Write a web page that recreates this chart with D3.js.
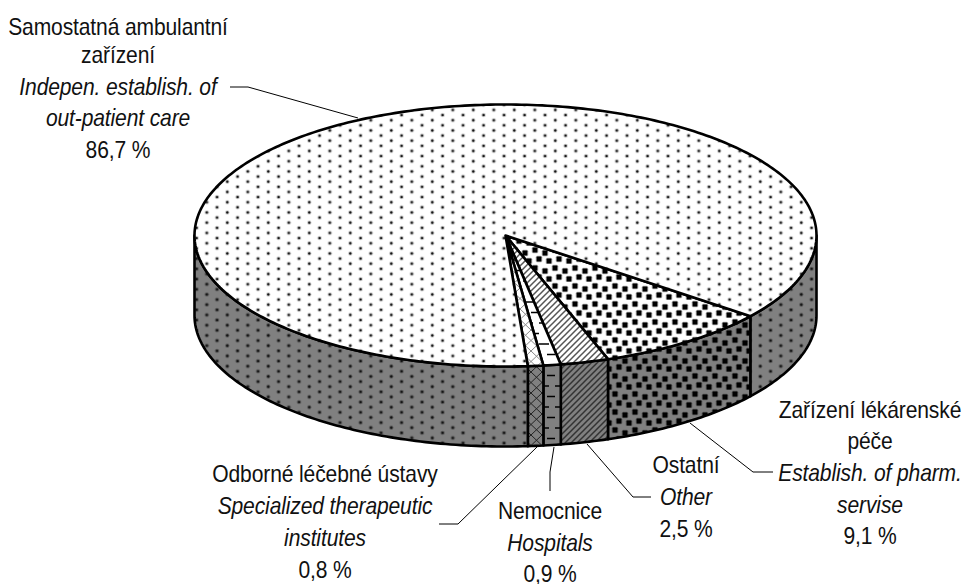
<!DOCTYPE html>
<html><head><meta charset="utf-8">
<script src="https://cdn.jsdelivr.net/npm/d3@7"></script>
<style>html,body{margin:0;background:#fff}svg{display:block}text{font-family:"Liberation Sans",Arial,sans-serif;font-size:23px;letter-spacing:-0.13px;fill:#111;text-anchor:middle}</style>
</head><body><svg id="c" width="967" height="584"></svg>
<script>
const categories=["Zařízení lékárenské péče","Ostatní","Nemocnice","Odborné léčebné ústavy","Samostatná ambulantní zařízení"];
const values=[9.1,2.5,0.9,0.8,86.7];
const patternIds=["pharm","other","hosp","spec","main"];
const labelLines=[
 [["Zařízení lékárenské",0],["péče",0],["Establish. of pharm.",1],["servise",1],["9,1 %",0]],
 [["Ostatní",0],["Other",1],["2,5 %",0]],
 [["Nemocnice",0],["Hospitals",1],["0,9 %",0]],
 [["Odborné léčebné ústavy",0],["Specialized therapeutic",1],["institutes",1],["0,8 %",0]],
 [["Samostatná ambulantní",0],["zařízení",0],["Indepen. establish. of",1],["out-patient care",1],["86,7 %",0]]
];
const labelX=[870,686,550,325,118];
const labelY=[[418,449,481,513,544],[473,505,537],[519,551,582],[482,514,546,578],[35,63,95,126,158]];
const leaders=[
 [[690,423],[753,472],[773,472]],
 [[587,444],[633,497],[651,497]],
 [[554,447],[550,472],[550,491]],
 [[537,447],[458,524],[439,524]],
 [[230,87],[248,87],[358,118]]
];
const svg=d3.select("#c"),defs=svg.append("defs");
const W=311,H=131,DEPTH=80,CX=505.5,CY=235.5;
const x=d3.scaleLinear().domain([-1,1]).range([CX-W,CX+W]);
const y=d3.scaleLinear().domain([-1,1]).range([CY-H,CY+H]);
const GRAY="#808080";
function tile(id,bg,w,h,draw,dx,dy){
  const p=defs.append("pattern").attr("id",id).attr("patternUnits","userSpaceOnUse").attr("width",w).attr("height",h)
    .attr("patternTransform",`translate(${dx||0},${dy||0})`);
  p.append("rect").attr("width",w).attr("height",h).attr("fill",bg);
  draw(p);
}
[["t","#fff"],["s",GRAY]].forEach(([k,bg])=>{
  const P=10.25;
  tile("main"+k,bg,P*2,P,p=>{
    [[P/2,P/2],[P*1.5,0],[P*1.5,P]].forEach(d=>{
      p.append("circle").attr("cx",d[0]).attr("cy",d[1]).attr("r",2.2).attr("fill","#000").attr("opacity",k=="t"?0.22:0.3);
      p.append("circle").attr("cx",d[0]).attr("cy",d[1]).attr("r",1.2).attr("fill","#111");
    });
  },227.3-P/2,181.7-P/2);
  tile("pharm"+k,bg,20,18,p=>{
    [[5,4],[15,7],[9,13],[19,15],[-1,15]].forEach(d=>{
      p.append("rect").attr("x",d[0]-3.3).attr("y",d[1]-3.3).attr("width",6.6).attr("height",6.6).attr("rx",1.5).attr("fill","#000").attr("opacity",0.3);
      p.append("rect").attr("x",d[0]-2.4).attr("y",d[1]-2.4).attr("width",4.8).attr("height",4.8).attr("rx",0.6).attr("fill","#000");
    });
  },630,300);
  const hs=6;
  tile("other"+k,bg,hs,hs,p=>{
    p.append("path").attr("d",`M-1,${hs+1}L${hs+1},-1M-1,1L1,-1M${hs-1},${hs+1}L${hs+1},${hs-1}`).attr("stroke",k=="t"?"#555":"#333").attr("stroke-width",1.5);
  },0,0);
  tile("spec"+k,bg,11,21,p=>{
    p.append("path").attr("d","M0,0L11,10.5L0,21M11,0L0,10.5L11,21").attr("fill","none").attr("stroke",k=="t"?"#888":"#222").attr("stroke-width",1);
  },531,372);
  tile("hosp"+k,bg,16,21,p=>{
    p.append("path").attr("d","M3,5H13M-5,15.5H3M11,15.5H21").attr("stroke","#000").attr("stroke-width",1.6);
  },536,381);
});
const T0=38*Math.PI/180;
const pie=d3.pie().sort(null).value(d=>d).startAngle(T0).endAngle(T0+2*Math.PI);
const arcs=pie(values);
const line=d3.line().x(d=>x(d[0])).y(d=>y(d[1])+(d[2]||0));
function rim(a0,a1,off){
  const n=Math.max(2,Math.ceil(Math.abs(a1-a0)*60));
  return d3.range(n+1).map(i=>{const t=a0+(a1-a0)*i/n;return[Math.cos(t),Math.sin(t),off||0];});
}
const g=svg.append("g");
function sidePieces(a){
  const out=[];
  [[0,Math.PI],[2*Math.PI,3*Math.PI]].forEach(([lo,hi])=>{
    const s=Math.max(a.startAngle,lo),e=Math.min(a.endAngle,hi);
    if(e>s)out.push([s,e]);
  });
  return out;
}
const SW=2.6;
arcs.forEach((a,i)=>{
  sidePieces(a).forEach(([s,e])=>{
    const pts=rim(s,e,0).concat(rim(e,s,DEPTH));
    g.append("path").attr("d",line(pts)+"Z").attr("fill",`url(#${patternIds[i]}s)`).attr("stroke","#000").attr("stroke-width",SW).attr("stroke-linejoin","round");
  });
});
arcs.forEach((a,i)=>{
  const pts=[[0,0]].concat(rim(a.startAngle,a.endAngle,0));
  g.append("path").attr("d",line(pts)+"Z").attr("fill",`url(#${patternIds[i]}t)`).attr("stroke","#000").attr("stroke-width",SW).attr("stroke-linejoin","round");
});
const leaderLine=d3.line();
leaders.forEach(l=>svg.append("path").attr("d",leaderLine(l)).attr("fill","none").attr("stroke","#000").attr("stroke-width",1));
const SX=0.915;
labelLines.forEach((lines,i)=>{
  lines.forEach((l,j)=>svg.append("text").attr("transform",`translate(${labelX[i]},${labelY[i][j]}) scale(${SX},1)`).attr("font-style",l[1]?"italic":"normal").text(l[0]));
});
</script></body></html>
